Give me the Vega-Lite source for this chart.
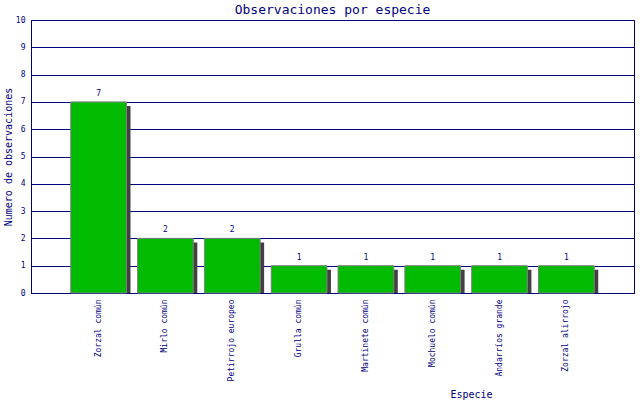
{
  "$schema": "https://vega.github.io/schema/vega-lite/v6.json",
  "width": 603,
  "height": 273,
  "autosize": "none",
  "padding": {"left": 31, "top": 20, "right": 6, "bottom": 107},
  "background": "white",
  "title": {
    "text": "Observaciones por especie",
    "font": "DejaVu Sans Mono",
    "fontSize": 13,
    "fontWeight": "normal",
    "color": "#000080",
    "offset": -1
  },
  "config": {
    "view": {"stroke": "#000080", "strokeWidth": 1},
    "font": "DejaVu Sans Mono"
  },
  "data": {
    "values": [
      {"especie": "Zorzal común", "n": 7},
      {"especie": "Mirlo común", "n": 2},
      {"especie": "Petirrojo europeo", "n": 2},
      {"especie": "Grulla común", "n": 1},
      {"especie": "Martinete común", "n": 1},
      {"especie": "Mochuelo común", "n": 1},
      {"especie": "Andarríos grande", "n": 1},
      {"especie": "Zorzal alirrojo", "n": 1}
    ]
  },
  "encoding": {
    "x": {
      "field": "especie",
      "type": "nominal",
      "sort": null,
      "scale": {"paddingInner": 0.166, "paddingOuter": 0.595},
      "title": "Especie",
      "axis": {
        "labelAngle": -90,
        "labelAlign": "right",
        "labelBaseline": "middle",
        "labelFont": "DejaVu Sans Mono",
        "labelFontSize": 8,
        "labelColor": "#000080",
        "labelPadding": 6,
        "ticks": false,
        "domainColor": "#000080",
        "titleFont": "DejaVu Sans Mono",
        "titleFontSize": 10,
        "titleFontWeight": "normal",
        "titleColor": "#000080",
        "titleX": 440,
        "titleY": 101,
        "titleAlign": "center",
        "titleBaseline": "middle"
      }
    },
    "y": {
      "field": "n",
      "type": "quantitative",
      "scale": {"domain": [0, 10]},
      "title": "Numero de observaciones",
      "axis": {
        "values": [0, 1, 2, 3, 4, 5, 6, 7, 8, 9, 10],
        "format": "d",
        "ticks": false,
        "labelFont": "DejaVu Sans Mono",
        "labelFontSize": 8,
        "labelColor": "#000080",
        "labelPadding": 6,
        "domainColor": "#000080",
        "gridColor": "#000080",
        "gridOpacity": 1,
        "titleFont": "DejaVu Sans Mono",
        "titleFontSize": 10,
        "titleFontWeight": "normal",
        "titleColor": "#000080",
        "titleX": -23,
        "titleY": 136.5,
        "titleAlign": "center",
        "titleBaseline": "middle"
      }
    }
  },
  "layer": [
    {
      "mark": {"type": "bar", "color": "#404040", "xOffset": 4, "yOffset": 4, "clip": true}
    },
    {
      "mark": {"type": "bar", "color": "#00BB00", "stroke": "#808080", "strokeWidth": 1}
    },
    {
      "mark": {
        "type": "text",
        "dy": -8,
        "font": "DejaVu Sans Mono",
        "fontSize": 8,
        "color": "#000080"
      },
      "encoding": {"text": {"field": "n", "type": "quantitative"}}
    }
  ]
}
